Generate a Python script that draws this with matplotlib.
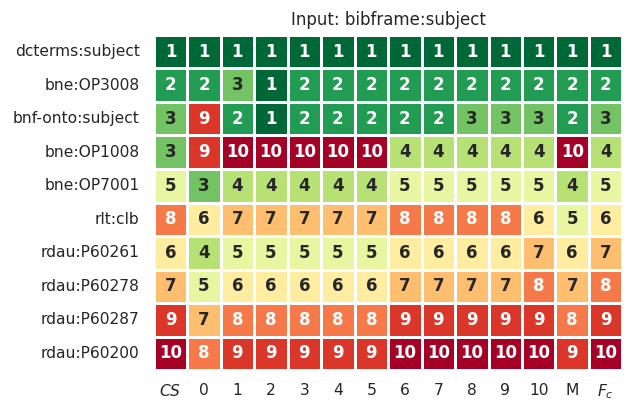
import numpy as np
import pandas as pd
import seaborn as sns
import matplotlib.pyplot as plt

rows = ["dcterms:subject", "bne:OP3008", "bnf-onto:subject", "bne:OP1008",
        "bne:OP7001", "rlt:clb", "rdau:P60261", "rdau:P60278",
        "rdau:P60287", "rdau:P60200"]
cols = ["$CS$", "0", "1", "2", "3", "4", "5", "6", "7", "8", "9", "10", "M", "$F_c$"]

ranks = [
    [1, 1, 1, 1, 1, 1, 1, 1, 1, 1, 1, 1, 1, 1],
    [2, 2, 3, 1, 2, 2, 2, 2, 2, 2, 2, 2, 2, 2],
    [3, 9, 2, 1, 2, 2, 2, 2, 2, 3, 3, 3, 2, 3],
    [3, 9, 10, 10, 10, 10, 10, 4, 4, 4, 4, 4, 10, 4],
    [5, 3, 4, 4, 4, 4, 4, 5, 5, 5, 5, 5, 4, 5],
    [8, 6, 7, 7, 7, 7, 7, 8, 8, 8, 8, 6, 5, 6],
    [6, 4, 5, 5, 5, 5, 5, 6, 6, 6, 6, 7, 6, 7],
    [7, 5, 6, 6, 6, 6, 6, 7, 7, 7, 7, 8, 7, 8],
    [9, 7, 8, 8, 8, 8, 8, 9, 9, 9, 9, 9, 8, 9],
    [10, 8, 9, 9, 9, 9, 9, 10, 10, 10, 10, 10, 9, 10],
]

df = pd.DataFrame(ranks, index=rows, columns=cols)

sns.set_theme(style="white")
plt.rcParams["font.family"] = ["DejaVu Sans"]
plt.rcParams["mathtext.fontset"] = "dejavusans"

fig = plt.figure(figsize=(6.3, 4.01), dpi=100)
ax = fig.add_axes([0.244, 0.077, 0.744, 0.836])
sns.heatmap(df, ax=ax, cmap="RdYlGn_r", vmin=1, vmax=10, annot=True, fmt="d",
            annot_kws={"fontsize": 12, "fontweight": "bold"},
            linewidths=2, linecolor="white", cbar=False)
ax.set_title("Input: bibframe:subject", fontsize=12, pad=7)
ax.tick_params(axis="both", length=0, labelsize=11.2)
ax.tick_params(axis="y", pad=10)
ax.tick_params(axis="x", pad=9)
plt.yticks(rotation=0)
plt.xticks(rotation=0)
plt.savefig("out.png", dpi=100)
